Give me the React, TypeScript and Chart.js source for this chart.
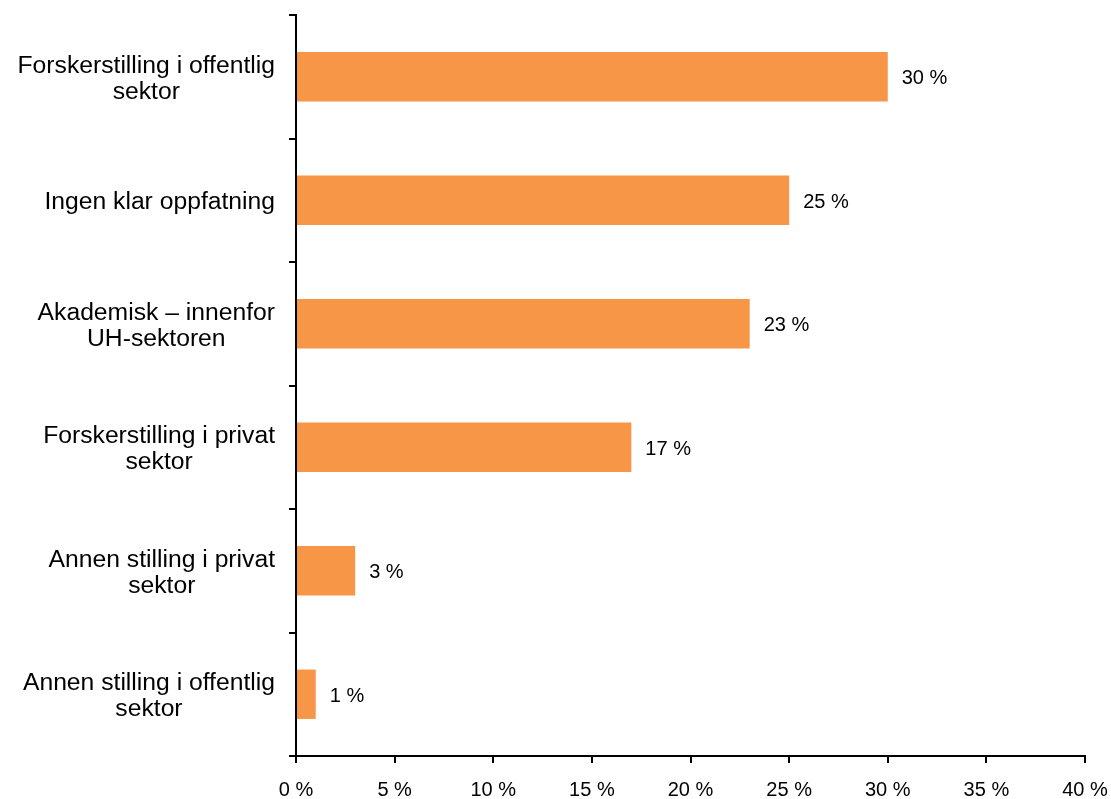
import React, { useEffect, useRef } from "react";
import { Chart, registerables } from "chart.js";

Chart.register(...registerables);

const categories: string[][] = [
  ["Forskerstilling i offentlig", "sektor"],
  ["Ingen klar oppfatning"],
  ["Akademisk – innenfor", "UH-sektoren"],
  ["Forskerstilling i privat", "sektor"],
  ["Annen stilling i privat", "sektor"],
  ["Annen stilling i offentlig", "sektor"],
];
const values: number[] = [30, 25, 23, 17, 3, 1];
const xTicks: number[] = [0, 5, 10, 15, 20, 25, 30, 35, 40];

const FONT = '"Liberation Sans", Arial, sans-serif';

const labelPlugin = {
  id: "customLabels",
  afterDraw(chart: any) {
    const ctx = chart.ctx;
    const xs = chart.scales.x;
    const ys = chart.scales.y;
    ctx.save();
    ctx.fillStyle = "#000";
    // category labels
    ctx.font = `24.7px ${FONT}`;
    ctx.textBaseline = "middle";
    ctx.textAlign = "center";
    categories.forEach((lines, i) => {
      const cy = ys.getPixelForValue(i) + 2;
      const maxW = Math.max(...lines.map((l) => ctx.measureText(l).width));
      const right = chart.chartArea.left - 21;
      const cx = right - maxW / 2;
      const lh = 26;
      const start = cy - ((lines.length - 1) * lh) / 2;
      lines.forEach((l, j) => ctx.fillText(l, cx, start + j * lh));
    });
    // value labels
    ctx.font = `20px ${FONT}`;
    ctx.textAlign = "left";
    values.forEach((v, i) => {
      const x = xs.getPixelForValue(v) + 14;
      const y = ys.getPixelForValue(i) + 2;
      ctx.fillText(`${v} %`, x, y);
    });
    ctx.restore();
  },
};

export default function App() {
  const ref = useRef<HTMLCanvasElement | null>(null);
  useEffect(() => {
    document.body.style.margin = "0";
    const chart = new Chart(ref.current as HTMLCanvasElement, {
      type: "bar",
      data: {
        labels: categories.map((c) => c.join(" ")),
        datasets: [
          {
            data: values,
            backgroundColor: "#F79646",
            barPercentage: 0.4,
            categoryPercentage: 1,
          },
        ],
      },
      options: {
        indexAxis: "y",
        animation: false,
        responsive: false,
        maintainAspectRatio: false,
        layout: { padding: { top: 15, right: 26, left: 0, bottom: 0 } },
        plugins: { legend: { display: false }, tooltip: { enabled: false } },
        scales: {
          x: {
            min: 0,
            max: 40,
            afterBuildTicks: (scale: any) => {
              scale.ticks = xTicks.map((v) => ({ value: v }));
            },
            ticks: {
              callback: (v: any) => `${v} %`,
              color: "#000",
              font: { family: FONT, size: 20 },
              padding: 15,
              maxRotation: 0,
            },
            grid: {
              drawOnChartArea: false,
              drawTicks: true,
              tickLength: 7,
              color: "#000",
              lineWidth: 2,
            },
            border: { display: true, color: "#000", width: 2 },
            afterFit: (scale: any) => {
              scale.height = 43;
              scale.paddingLeft = 0;
              scale.paddingRight = 0;
            },
          },
          y: {
            ticks: { display: false },
            grid: {
              offset: true,
              drawOnChartArea: false,
              drawTicks: true,
              tickLength: 7,
              color: "#000",
              lineWidth: 2,
            },
            border: { display: true, color: "#000", width: 2 },
            afterFit: (scale: any) => {
              scale.width = 296;
              scale.paddingTop = 0;
              scale.paddingBottom = 0;
            },
          },
        },
      },
      plugins: [labelPlugin],
    } as any);
    return () => chart.destroy();
  }, []);
  return (
    <div style={{ width: 1111, height: 799 }}>
      <canvas ref={ref} width={1111} height={799} style={{ display: "block" }} />
    </div>
  );
}
